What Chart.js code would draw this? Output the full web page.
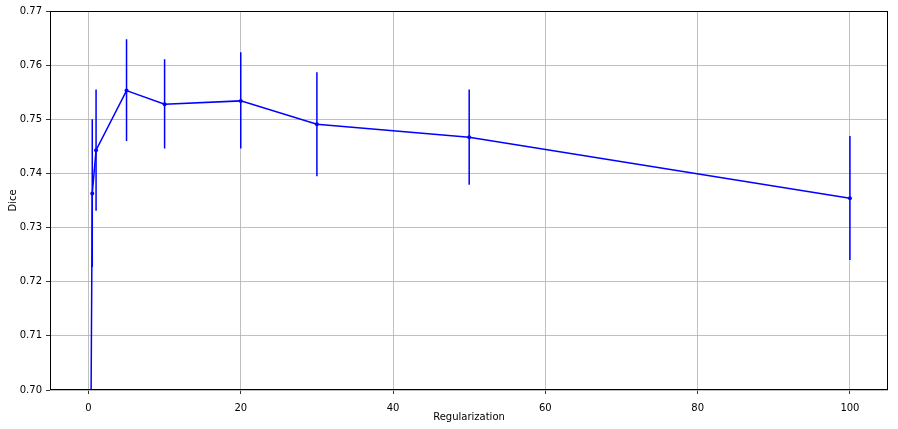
<!DOCTYPE html>
<html>
<head>
<meta charset="utf-8">
<script src="https://cdn.jsdelivr.net/npm/chart.js@4"></script>
<style>
  html, body { margin: 0; padding: 0; background: #fff; }
  #wrap { width: 898px; height: 429px; }
</style>
</head>
<body>
<div id="wrap"><canvas id="chart" width="898" height="429"></canvas></div>
<script>
// data
const regularization = [0.1, 0.5, 1, 5, 10, 20, 30, 50, 100]
const dice = [0.640, 0.7363, 0.7443, 0.7553, 0.7528, 0.7534, 0.7491, 0.7467, 0.7354]
const diceLow = [0.610, 0.7227, 0.7331, 0.7460, 0.7446, 0.7446, 0.7395, 0.7379, 0.7240]
const diceHigh = [0.670, 0.7500, 0.7555, 0.7648, 0.7611, 0.7624, 0.7587, 0.7555, 0.7469]
const xTicks = [0, 20, 40, 60, 80, 100]
const yTicks = [0.70, 0.71, 0.72, 0.73, 0.74, 0.75, 0.76, 0.77]

const blue = '#0000ff'
const font = { family: 'DejaVu Sans', size: 10 }

// error bars as one line dataset with gaps between the segments
let barPoints = []
regularization.forEach(function(x, i) {
    barPoints.push({ x: x, y: diceLow[i] })
    barPoints.push({ x: x, y: diceHigh[i] })
    barPoints.push({ x: x, y: null })
})

//draw all four spines
const frame = {
    id: 'frame',
    afterDraw(chart) {
        let a = chart.chartArea, ctx = chart.ctx
        ctx.save()
        ctx.strokeStyle = '#000'
        ctx.lineWidth = 1
        ctx.strokeRect(Math.round(a.left) + 0.5, Math.round(a.top) + 0.5,
            Math.round(a.right - a.left) - 1, Math.round(a.bottom - a.top) - 1)
        ctx.restore()
    }
}

new Chart(document.getElementById('chart').getContext('2d'), {
    type: 'line',
    data: {
        datasets: [
            {
                label: 'Dice',
                data: regularization.map((x, i) => ({ x: x, y: dice[i] })),
                borderColor: blue,
                backgroundColor: blue,
                borderWidth: 1.5,
                pointRadius: 2,
                pointBorderWidth: 0,
                tension: 0
            },
            {
                label: 'error',
                data: barPoints,
                borderColor: blue,
                borderWidth: 1.5,
                pointRadius: 0,
                spanGaps: false
            }
        ]
    },
    options: {
        responsive: false,
        animation: false,
        events: [],
        layout: { padding: { left: 0, right: 10, top: 11, bottom: 0 } },
        plugins: { legend: { display: false }, tooltip: { enabled: false } },
        scales: {
            x: {
                type: 'linear',
                min: -5.05,
                max: 105,
                afterBuildTicks: s => { s.ticks = xTicks.map(v => ({ value: v })) },
                afterFit: s => { s.height = 39 },
                ticks: { color: '#000', font: font, padding: 8, maxRotation: 0 },
                grid: { color: '#b0b0b0', lineWidth: 0.8, tickColor: '#000', tickLength: 4 },
                border: { display: false },
                title: { display: true, text: 'Regularization', color: '#000', font: font, padding: { top: 0, bottom: 6 } }
            },
            y: {
                min: 0.70,
                max: 0.77,
                afterBuildTicks: s => { s.ticks = yTicks.map(v => ({ value: v })) },
                afterFit: s => { s.width = 50 },
                ticks: { color: '#000', font: font, padding: 4, callback: v => v.toFixed(2) },
                grid: { color: '#b0b0b0', lineWidth: 0.8, tickColor: '#000', tickLength: 4 },
                border: { display: false },
                title: { display: true, text: 'Dice', color: '#000', font: font, padding: { top: 7, bottom: 0 } }
            }
        }
    },
    plugins: [frame]
})
</script>
</body>
</html>
